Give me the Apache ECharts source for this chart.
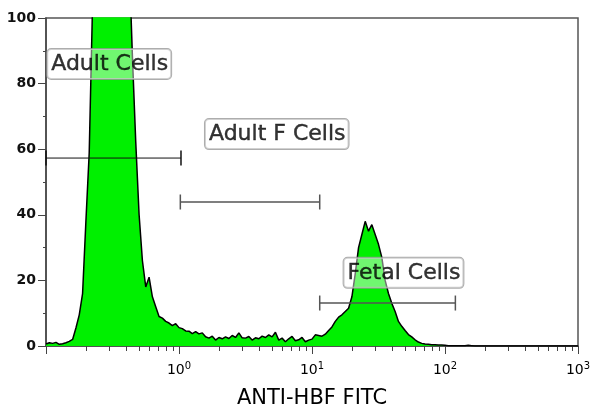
<!DOCTYPE html>
<html>
<head>
<meta charset="utf-8">
<script src="https://cdn.jsdelivr.net/npm/echarts@6/dist/echarts.min.js"></script>
<style>
html, body { margin: 0; padding: 0; background: #fff; }
#chart { width: 591px; height: 408px; }
</style>
</head>
<body>
<div id="chart"></div>
<script>
// event counts per channel, channels are 0.025 decade wide starting at 10^-1
var counts = [
  0.6, 1.0, 0.8, 1.1, 0.5, 0.7, 1.0, 1.4, 2.0, 5.5,
  9.5, 16, 38, 59, 104, 130, 150, 170, 180, 175,
  165, 160, 150, 140, 130, 118, 88, 62, 40, 26,
  18, 21, 15, 12, 9, 8.5, 7.5, 7, 6.2, 6.8,
  5.6, 5.3, 4.6, 4.5, 3.8, 4.4, 3.7, 4.0, 2.8, 2.4,
  3.0, 1.8, 2.6, 2.2, 2.8, 2.3, 3.2, 2.6, 4.0, 2.5,
  2.4, 2.9, 1.8, 2.5, 2.2, 3.0, 2.6, 3.4, 2.8, 4.2,
  1.8, 2.4, 1.3, 2.2, 2.9, 1.6, 1.9, 2.6, 1.3, 1.8,
  2.1, 3.4, 3.2, 3.0, 3.6, 4.7, 5.8, 7.5, 8.8, 9.5,
  10.5, 11.5, 15, 22, 30, 34, 38, 35, 37, 34,
  31, 27, 20, 16, 13, 10.5, 7.5, 6, 4.7, 3.5,
  2.8, 1.9, 1.2, 0.8, 0.6, 0.5, 0.4, 0.4, 0.3, 0.3,
  0.2, 0.1, 0.1, 0.1, 0.1, 0.1, 0.1, 0.2, 0.1, 0,
  0, 0, 0, 0, 0, 0, 0, 0, 0, 0,
  0, 0, 0, 0, 0, 0, 0, 0, 0, 0,
  0, 0, 0, 0, 0, 0, 0, 0, 0, 0,
  0
];
var firstChannel = -1;
var channelWidth = 0.025;

var minorFactors = [2, 3, 4, 5, 6, 7, 8, 9];
var decades = [-1, 0, 1, 2];

// gates, x in decades (log10), y in counts
var gateNames = ['Adult Cells', 'Adult F Cells', 'Fetal Cells'];
var gateFrom = [-1, 0.01, 1.058];
var gateTo = [0.015, 1.058, 2.078];
var gateLevel = [57.3, 43.9, 13.1];
var labelX = [-0.525, 0.735, 1.688];
var labelY = [86, 64.6, 22.3];

var histData = counts.map(function (c, i) {
  return [firstChannel + i * channelWidth, c];
});

var minorTicks = [];
decades.forEach(function (d) {
  minorFactors.forEach(function (f) {
    minorTicks.push(d + Math.log10(f));
  });
});

var font = 'DejaVu Sans';
var gateColors = ['#111', '#555', '#555'];
var gateWidths = [1, 1.5, 1.5];

var series = [{
  type: 'line',
  data: histData,
  symbol: 'none',
  clip: true,
  lineStyle: { color: '#000', width: 1.5 },
  areaStyle: { color: '#00f000', opacity: 1 },
  z: 2
}];

gateNames.forEach(function (name, k) {
  series.push({
    type: 'line',
    data: [[gateFrom[k], gateLevel[k]], [gateTo[k], gateLevel[k]]],
    symbol: 'rect',
    symbolSize: [1.5, 15],
    showSymbol: true,
    itemStyle: { color: gateColors[k] },
    lineStyle: { color: gateColors[k], width: gateWidths[k] },
    z: 3
  });
  series.push({
    type: 'scatter',
    data: [{ name: name, value: [labelX[k], labelY[k]] }],
    symbolSize: 1,
    itemStyle: { color: 'transparent' },
    z: 4,
    label: {
      show: true,
      position: 'inside',
      formatter: '{b}',
      fontFamily: font,
      fontSize: 22,
      color: '#000',
      textBorderColor: '#000',
      textBorderWidth: 0.4,
      backgroundColor: 'rgba(255,255,255,0.55)',
      borderColor: '#999',
      borderWidth: 1,
      borderRadius: 4,
      padding: [4, 3, 4, 4]
    }
  });
});

var chart = echarts.init(document.getElementById('chart'));
chart.setOption({
  animation: false,
  grid: {
    left: 46, right: 13, top: 18, bottom: 62,
    outerBoundsMode: 'none',
    containLabel: false,
    show: true, borderColor: '#555', borderWidth: 1.5
  },
  xAxis: [{
    type: 'value',
    min: -1, max: 3, interval: 1,
    name: 'ANTI-HBF FITC',
    nameLocation: 'middle',
    nameGap: 42,
    nameTextStyle: { fontFamily: font, fontSize: 21, color: '#000' },
    axisLine: { lineStyle: { color: '#444', width: 1.5 } },
    axisTick: { length: 8, lineStyle: { color: '#444' } },
    splitLine: { show: false },
    axisLabel: {
      margin: 15,
      formatter: function (v) {
        return v === -1 ? '' : '{b|10}{s|' + v + '}';
      },
      rich: {
        b: { fontFamily: font, fontSize: 14, color: '#000' },
        s: { fontFamily: font, fontSize: 10, color: '#000', padding: [0, 0, 8, 0] }
      }
    }
  }, {
    type: 'value',
    min: -1, max: 3,
    position: 'bottom',
    axisLine: { show: false },
    axisLabel: { show: false },
    splitLine: { show: false },
    axisTick: { show: true, length: 5, customValues: minorTicks, lineStyle: { color: '#444' } }
  }],
  yAxis: {
    type: 'value',
    min: 0, max: 100, interval: 20,
    axisLine: { show: true, onZero: false, lineStyle: { color: '#444', width: 1.5 } },
    axisTick: { show: true, length: 8, lineStyle: { color: '#444' } },
    minorTick: { show: true, splitNumber: 2, length: 3, lineStyle: { color: '#444' } },
    splitLine: { show: false },
    axisLabel: { margin: 10, fontFamily: font, fontSize: 14, fontWeight: 'bold', color: '#111' }
  },
  series: series
});
</script>
</body>
</html>
